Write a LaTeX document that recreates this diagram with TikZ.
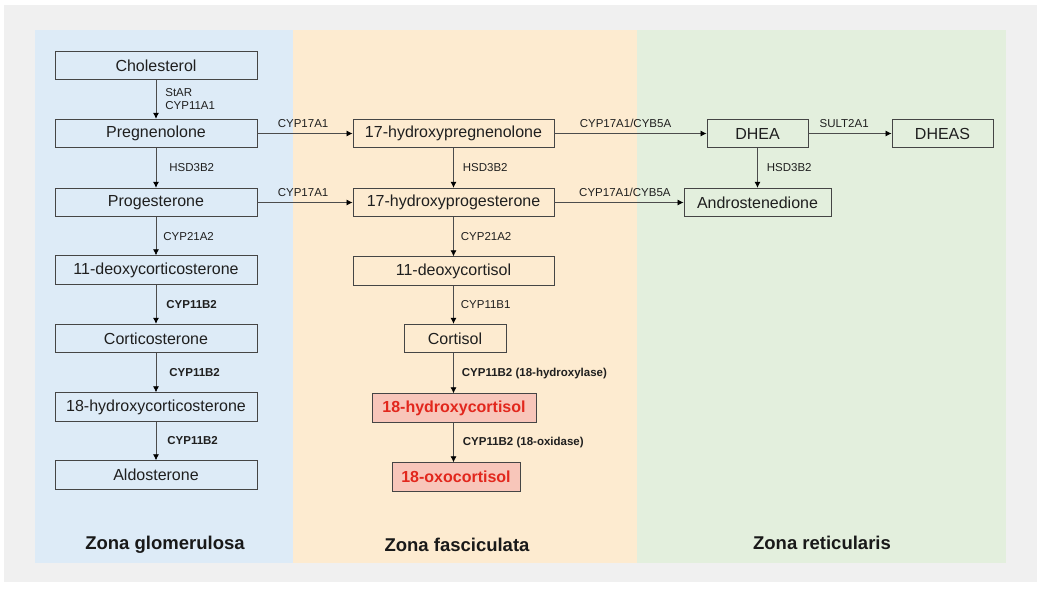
\documentclass[tikz,border=0pt]{standalone}
\usepackage{fontspec}
\setmainfont{Liberation Sans}
\usetikzlibrary{arrows.meta}
\definecolor{bggray}{HTML}{F0F0F0}
\definecolor{zblue}{HTML}{DDEBF7}
\definecolor{zorange}{HTML}{FDEBD0}
\definecolor{zgreen}{HTML}{E3EFDD}
\definecolor{boxline}{HTML}{454545}
\definecolor{redfill}{HTML}{F8C6BA}
\definecolor{redtext}{HTML}{E2271D}
\begin{document}
\begin{tikzpicture}[x=1pt,y=-1pt,
  mbox/.style={draw=boxline, line width=0.9pt, minimum height=28.5pt, inner sep=0pt,
    font=\fontsize{16}{19}\selectfont, text=black!88},
  rbox/.style={mbox, fill=redfill, text=redtext, font=\fontsize{16}{19}\selectfont\bfseries},
  conn/.style={draw=black!70, line width=0.75pt, -{Latex[length=6pt,width=6pt,black]}},
  lab/.style={font=\fontsize{11.5}{13}\selectfont, text=black!88, inner sep=0pt},
  blab/.style={lab, font=\fontsize{11.5}{13}\selectfont\bfseries},
  vlab/.style={lab, midway, anchor=west, xshift=#1},
  vlab/.default=9pt,
  bvlab/.style={blab, midway, anchor=west, xshift=#1},
  bvlab/.default=10pt,
  hlab/.style={lab, pos=#1, anchor=south, yshift=6pt},
  hlab/.default=0.5,
  ztitle/.style={font=\fontsize{18.5}{22}\selectfont\bfseries, text=black!90, inner sep=0pt}]

\useasboundingbox (0,0) rectangle (1041,591);
\fill[white] (0,0) rectangle (1041,591);
\fill[bggray] (4,5) rectangle (1037,582);
\fill[zblue] (35,30) rectangle (293,563);
\fill[zorange] (293,30) rectangle (637,563);
\fill[zgreen] (637,30) rectangle (1006,563);

% Zona glomerulosa
\node[mbox, minimum width=202pt] (chol) at (156,65.5) {Cholesterol};
\node[mbox, minimum width=202pt] (preg) at (156,133.5) {Pregnenolone};
\node[mbox, minimum width=202pt] (prog) at (156,202.5) {Progesterone};
\node[mbox, minimum width=202pt] (doc) at (156,270) {11-deoxycorticosterone};
\node[mbox, minimum width=202pt] (cort) at (156,338.5) {Corticosterone};
\node[mbox, minimum width=202pt] (ohc) at (156,407) {18-hydroxycorticosterone};
\node[mbox, minimum width=202pt] (aldo) at (156,475) {Aldosterone};

% Zona fasciculata
\node[mbox, minimum width=201pt] (ohpreg) at (453.5,133.5) {17-hydroxypregnenolone};
\node[mbox, minimum width=201pt] (ohprog) at (453.5,202.5) {17-hydroxyprogesterone};
\node[mbox, minimum width=201pt] (dcortisol) at (453.5,271) {11-deoxycortisol};
\node[mbox, minimum width=102pt] (cortisol) at (455,338.5) {Cortisol};
\node[rbox, minimum width=164pt] (hcortisol) at (454,408) {18-hydroxycortisol};
\node[rbox, minimum width=128pt] (oxo) at (456,477) {18-oxocortisol};

% Zona reticularis
\node[mbox, minimum width=101pt] (dhea) at (757.5,133.5) {DHEA};
\node[mbox, minimum width=101pt] (dheas) at (942.5,133.5) {DHEAS};
\node[mbox, minimum width=147pt] (andro) at (757.5,202.5) {Androstenedione};

% vertical connectors, left
\draw[conn] (chol) -- (preg) node[vlab, align=left] {StAR\\CYP11A1};
\draw[conn] (preg) -- (prog) node[vlab=13pt] {HSD3B2};
\draw[conn] (prog) -- (doc) node[vlab=7pt] {CYP21A2};
\draw[conn] (doc) -- (cort) node[bvlab] {CYP11B2};
\draw[conn] (cort) -- (ohc) node[bvlab=13pt] {CYP11B2};
\draw[conn] (ohc) -- (aldo) node[bvlab=11pt] {CYP11B2};

% vertical connectors, centre
\draw[conn] (ohpreg) -- (ohprog) node[vlab] {HSD3B2};
\draw[conn] (ohprog) -- (dcortisol) node[vlab=7pt] {CYP21A2};
\draw[conn] (dcortisol.south) -- (dcortisol.south |- cortisol.north) node[vlab=7pt] {CYP11B1};
\draw[conn] (dcortisol.south |- cortisol.south) -- (dcortisol.south |- hcortisol.north) node[bvlab=8pt] {CYP11B2 (18-hydroxylase)};
\draw[conn] (dcortisol.south |- hcortisol.south) -- (dcortisol.south |- oxo.north) node[bvlab=9pt] {CYP11B2 (18-oxidase)};

% vertical connector, right
\draw[conn] (dhea) -- (andro) node[vlab] {HSD3B2};

% horizontal connectors
\draw[conn] (preg) -- (ohpreg) node[hlab=0.48] {CYP17A1};
\draw[conn] (prog) -- (ohprog) node[hlab=0.48] {CYP17A1};
\draw[conn] (ohpreg) -- (dhea) node[hlab=0.467] {CYP17A1/CYB5A};
\draw[conn] (ohprog) -- (andro) node[hlab=0.546] {CYP17A1/CYB5A};
\draw[conn] (dhea) -- (dheas) node[hlab=0.43] {SULT2A1};

% zone titles
\node[ztitle] (tglom) at (165,545) {Zona glomerulosa};
\node[ztitle] (tfasc) at (457,545) {Zona fasciculata};
\node[ztitle] (tret) at (822,543) {Zona reticularis};
\end{tikzpicture}
\end{document}
